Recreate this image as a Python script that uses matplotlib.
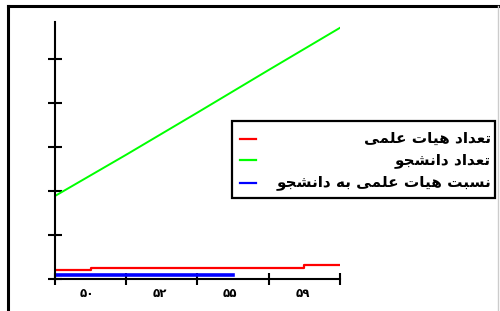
import matplotlib
matplotlib.use("Agg")
import matplotlib.pyplot as plt
from matplotlib.lines import Line2D
from matplotlib.patches import Rectangle

# ---------------- data ----------------
categories = ["۵۰", "۵۲", "۵۵", "۵۹"]
series_names = ["تعداد هیات علمی", "تعداد دانشجو", "نسبت هیات علمی به دانشجو"]
series_colors = ["#ff0000", "#00ff00", "#0000ff"]

green_x = [0, 1, 2, 3, 4]
green_y = [1.89, 2.83, 3.79, 4.76, 5.72]
red_x = [0, 0.5, 3.5, 4]
red_y = [0.20, 0.26, 0.32, 0.32]
blue_x = [0, 2.5]
blue_y = [0.09, 0.09]

# ---------------- minimal Arabic/Persian shaping ----------------
FORMS = {
    "ب": (0xFE8F, 0xFE90, 0xFE91, 0xFE92),
    "ت": (0xFE95, 0xFE96, 0xFE97, 0xFE98),
    "ج": (0xFE9D, 0xFE9E, 0xFE9F, 0xFEA0),
    "س": (0xFEB1, 0xFEB2, 0xFEB3, 0xFEB4),
    "ش": (0xFEB5, 0xFEB6, 0xFEB7, 0xFEB8),
    "ع": (0xFEC9, 0xFECA, 0xFECB, 0xFECC),
    "ل": (0xFEDD, 0xFEDE, 0xFEDF, 0xFEE0),
    "م": (0xFEE1, 0xFEE2, 0xFEE3, 0xFEE4),
    "ن": (0xFEE5, 0xFEE6, 0xFEE7, 0xFEE8),
    "ه": (0xFEE9, 0xFEEA, 0xFEEB, 0xFEEC),
    "ی": (0xFEEF, 0xFEF0, 0xFEF3, 0xFEF4),
    "ا": (0xFE8D, 0xFE8E, None, None),
    "د": (0xFEA9, 0xFEAA, None, None),
    "و": (0xFEED, 0xFEEE, None, None),
}


def shape(text):
    out = []
    n = len(text)
    for i, ch in enumerate(text):
        if ch not in FORMS:
            out.append(ch)
            continue
        f = FORMS[ch]
        prev = text[i - 1] if i > 0 else None
        nxt = text[i + 1] if i < n - 1 else None
        jp = prev in FORMS and FORMS[prev][2] is not None
        jn = f[2] is not None and nxt in FORMS
        if jp and jn:
            c = f[3]
        elif jp:
            c = f[1]
        elif jn:
            c = f[2]
        else:
            c = f[0]
        out.append(chr(c))
    return "".join(out)[::-1]


plt.rcParams["font.family"] = ["DejaVu Sans"]

fig = plt.figure(figsize=(5.0, 3.11), dpi=100)
fig.patch.set_facecolor("white")

ax = fig.add_axes([0.11, 0.103, 0.57, 0.826])
ax.plot(green_x, green_y, color=series_colors[1], lw=1.4)
ax.plot(red_x, red_y, color=series_colors[0], lw=1.6, drawstyle="steps-post")
ax.plot(blue_x, blue_y, color=series_colors[2], lw=2.6)

ax.set_xlim(0, 4)
ax.set_ylim(0, 5.85)
for s in ["top", "right"]:
    ax.spines[s].set_visible(False)
for s in ["left", "bottom"]:
    ax.spines[s].set_linewidth(1.5)

ax.set_xticks([0, 1, 2, 3, 4])
ax.set_xticklabels([])
ax.set_xticks([0.45, 1.47, 2.46, 3.48], minor=True)
ax.set_xticklabels(categories, minor=True, fontsize=8.5, fontweight="bold")
ax.tick_params(axis="x", which="major", direction="inout", length=8, width=1.5)
ax.tick_params(axis="x", which="minor", length=0, pad=6)
ax.set_yticks([0, 1, 2, 3, 4, 5])
ax.set_yticklabels([])
ax.tick_params(axis="y", direction="inout", length=10, width=1.5)

# ---------------- legend (manual) ----------------
W, H = 500.0, 311.0
fx = lambda px: px / W
fy = lambda py: 1 - py / H
fig.patches.append(Rectangle((fx(232), fy(198)), fx(495) - fx(232), fy(121) - fy(198),
                             transform=fig.transFigure, fill=False, edgecolor="black",
                             linewidth=1.6))
rows = [138.5, 160.5, 183]
for name, col, ry in zip(series_names, series_colors, rows):
    fig.lines.append(Line2D([fx(240), fx(256)], [fy(ry), fy(ry)], transform=fig.transFigure,
                            color=col, lw=1.6))
    fig.text(fx(491), fy(ry), shape(name), ha="right", va="center", fontsize=11,
             fontweight="bold", color="black")

# ---------------- outer frame ----------------
fig.lines.append(Line2D([fx(8), fx(8)], [fy(6), 0], transform=fig.transFigure,
                        color="black", lw=2.2))
fig.lines.append(Line2D([fx(8), fx(499)], [fy(6), fy(6)], transform=fig.transFigure,
                        color="black", lw=2.2))
fig.lines.append(Line2D([fx(498), fx(498)], [fy(6), 0], transform=fig.transFigure,
                        color="#cccccc", lw=1))

fig.savefig("out.png", dpi=100, facecolor="white")
